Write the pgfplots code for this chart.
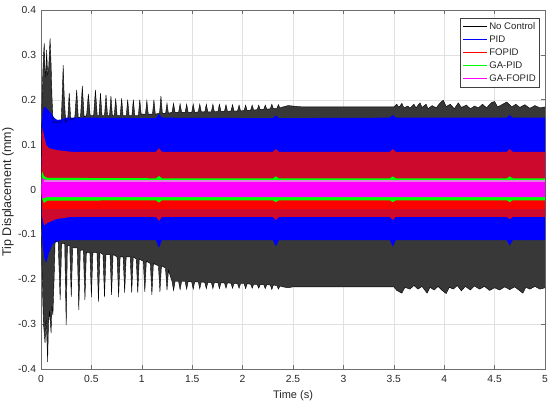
\documentclass[border=0pt]{standalone}
\usepackage{pgfplots}
\pgfplotsset{compat=1.18}
\usepgfplotslibrary{fillbetween}
\usepackage{fontspec}
\setmainfont{Liberation Sans}
\definecolor{bandk}{RGB}{56,56,56}
\definecolor{crim}{RGB}{205,10,45}
\definecolor{mlight}{RGB}{228,120,228}
\definecolor{axcol}{RGB}{110,110,110}
\definecolor{txtcol}{RGB}{38,38,38}
\definecolor{cblue}{RGB}{0,0,255}
\definecolor{cred}{RGB}{255,0,0}
\definecolor{cgreen}{RGB}{0,255,0}
\definecolor{cmag}{RGB}{255,0,255}
\begin{document}
\begin{tikzpicture}
\begin{axis}[
  scale only axis, width=504bp, height=359bp,
  xmin=0, xmax=5, ymin=-0.4, ymax=0.4,
  xtick={0,0.5,1,1.5,2,2.5,3,3.5,4,4.5,5},
  xticklabels={0,0.5,1,1.5,2,2.5,3,3.5,4,4.5,5},
  ytick={-0.4,-0.3,-0.2,-0.1,0,0.1,0.2,0.3,0.4},
  yticklabels={-0.4,-0.3,-0.2,-0.1,0,0.1,0.2,0.3,0.4},
  tick align=inside, major tick length=4bp,
  axis line style={axcol, line width=0.6bp},
  every tick/.style={axcol, line width=0.6bp},
  grid=major, major grid style={black!12, line width=0.5bp},
  ticklabel style={font=\fontsize{10.3bp}{12bp}\selectfont, text=txtcol},
  xticklabel style={yshift=-2.5bp},
  yticklabel style={xshift=-1.5bp},
  /pgf/number format/assume math mode=true,
  xlabel={Time (s)}, ylabel={Tip Displacement (mm)},
  xlabel style={font=\fontsize{11bp}{13bp}\selectfont, text=txtcol, at={(axis description cs:0.5,-0.0738)}, anchor=center},
  ylabel style={font=\fontsize{12.5bp}{14bp}\selectfont, text=txtcol, at={(axis description cs:-0.0655,0.493)}, anchor=center, rotate=0},
  legend style={at={(0.990,0.978)}, anchor=north east, draw=black!75, line width=0.5bp,
    font=\fontsize{9.6bp}{11bp}\selectfont, text=txtcol, inner xsep=2.5bp, inner ysep=2.5bp,
    row sep=1bp, nodes={inner sep=1.5bp, text height=7bp, text depth=2bp}},
  legend cell align=left,
  legend image code/.code={\draw[line width=0.8bp] (0bp,0bp) -- (24bp,0bp);},
]
% ---------------- No Control (black) ----------------
\addplot[name path=ku, black, line width=0.4bp, forget plot] coordinates {
(0,0) (0.004,0.1) (0.01,0.2) (0.018,0.26) (0.025,0.30) (0.032,0.326) (0.04,0.27)
(0.048,0.25) (0.056,0.311) (0.066,0.255) (0.076,0.27) (0.09,0.337) (0.1,0.28)
(0.11,0.2) (0.12,0.15) (0.2,0.15) (0.212,0.22) (0.22,0.277) (0.23,0.21) (0.245,0.15)
(0.265,0.155) (0.28,0.215) (0.295,0.155) (0.335,0.16) (0.354,0.222) (0.37,0.16)
(0.392,0.162) (0.41,0.231) (0.428,0.162) (0.452,0.165) (0.47,0.213) (0.488,0.165)
(0.522,0.165) (0.54,0.222) (0.558,0.165) (0.575,0.165) (0.59,0.215) (0.605,0.165)
(0.63,0.165) (0.645,0.211) (0.66,0.165) (0.68,0.165) (0.694,0.208) (0.708,0.165)
(0.727,0.165) (0.741,0.203) (0.755,0.165) (0.786,0.165) (0.80,0.203) (0.814,0.165)
(0.846,0.165) (0.86,0.2) (0.874,0.165) (0.902,0.165) (0.916,0.2) (0.93,0.165)
(0.966,0.165) (0.98,0.2) (0.994,0.168) (1.036,0.168) (1.05,0.198) (1.064,0.168)
(1.106,0.168) (1.12,0.2) (1.134,0.168) (1.176,0.17) (1.19,0.208) (1.204,0.17)
(1.236,0.17) (1.25,0.192) (1.264,0.17) (1.30,0.172) (1.315,0.192) (1.33,0.172)
(1.365,0.172) (1.38,0.191) (1.395,0.172) (1.43,0.172) (1.445,0.19) (1.46,0.172)
(1.495,0.172) (1.51,0.19) (1.525,0.172) (1.56,0.173) (1.575,0.19) (1.59,0.173)
(1.625,0.173) (1.64,0.19) (1.655,0.173) (1.69,0.173) (1.705,0.19) (1.72,0.173)
(1.755,0.174) (1.77,0.19) (1.785,0.174) (1.82,0.174) (1.835,0.189) (1.85,0.174)
(1.885,0.175) (1.90,0.189) (1.915,0.175) (1.95,0.175) (1.965,0.188) (1.98,0.175)
(2.015,0.176) (2.03,0.188) (2.045,0.176) (2.08,0.177) (2.095,0.188) (2.11,0.177)
(2.145,0.178) (2.16,0.188) (2.175,0.178) (2.21,0.179) (2.225,0.188) (2.24,0.179)
(2.275,0.18) (2.29,0.19) (2.305,0.18) (2.34,0.181) (2.355,0.189) (2.37,0.182)
(2.40,0.184) (2.45,0.187) (2.5,0.186) (2.6,0.184) (3.0,0.184) (3.5,0.184)
(3.53,0.19) (3.55,0.183) (3.58,0.192) (3.6,0.182) (3.64,0.186) (3.66,0.181)
(3.7,0.19) (3.72,0.182) (3.76,0.193) (3.78,0.183) (3.82,0.19) (3.84,0.18)
(3.88,0.187) (3.92,0.182) (3.96,0.193) (3.99,0.199) (4.02,0.185) (4.06,0.19)
(4.1,0.18) (4.14,0.193) (4.17,0.183) (4.22,0.188) (4.26,0.18) (4.3,0.186)
(4.34,0.182) (4.38,0.19) (4.42,0.182) (4.47,0.194) (4.5,0.196) (4.53,0.184)
(4.58,0.19) (4.62,0.195) (4.67,0.184) (4.71,0.19) (4.75,0.183) (4.8,0.189)
(4.85,0.181) (4.9,0.187) (4.95,0.182) (5,0.184)};
\addplot[name path=kl, black, line width=0.4bp, forget plot] coordinates {
(0,0) (0.004,-0.08) (0.01,-0.18) (0.018,-0.25) (0.025,-0.30) (0.04,-0.342) (0.05,-0.29)
(0.058,-0.33) (0.066,-0.384) (0.074,-0.3) (0.085,-0.27) (0.1,-0.32) (0.108,-0.26)
(0.118,-0.28) (0.13,-0.2) (0.14,-0.115) (0.17,-0.115) (0.19,-0.246) (0.205,-0.12)
(0.235,-0.12) (0.25,-0.302) (0.262,-0.125) (0.285,-0.125) (0.30,-0.239) (0.315,-0.13)
(0.36,-0.13) (0.375,-0.268) (0.39,-0.135) (0.42,-0.135) (0.436,-0.246) (0.45,-0.14)
(0.485,-0.14) (0.50,-0.24) (0.515,-0.14) (0.555,-0.14) (0.57,-0.25) (0.585,-0.14)
(0.615,-0.145) (0.63,-0.24) (0.645,-0.145) (0.685,-0.145) (0.70,-0.235) (0.715,-0.145)
(0.755,-0.15) (0.77,-0.24) (0.785,-0.15) (0.815,-0.15) (0.83,-0.23) (0.845,-0.15)
(0.885,-0.15) (0.90,-0.23) (0.915,-0.15) (0.945,-0.155) (0.96,-0.23) (0.975,-0.155)
(1.015,-0.16) (1.03,-0.228) (1.045,-0.16) (1.085,-0.165) (1.10,-0.235) (1.115,-0.165)
(1.165,-0.17) (1.18,-0.228) (1.195,-0.17) (1.235,-0.175) (1.25,-0.224) (1.265,-0.18)
(1.30,-0.205) (1.315,-0.225) (1.33,-0.205) (1.365,-0.205) (1.38,-0.223) (1.395,-0.205)
(1.43,-0.205) (1.445,-0.222) (1.46,-0.205) (1.495,-0.206) (1.51,-0.222) (1.525,-0.206)
(1.56,-0.206) (1.575,-0.221) (1.59,-0.206) (1.625,-0.207) (1.64,-0.221) (1.655,-0.207)
(1.69,-0.207) (1.705,-0.221) (1.72,-0.207) (1.755,-0.208) (1.77,-0.221) (1.785,-0.208)
(1.82,-0.208) (1.835,-0.22) (1.85,-0.208) (1.885,-0.209) (1.90,-0.22) (1.915,-0.209)
(1.95,-0.21) (1.965,-0.22) (1.98,-0.21) (2.015,-0.21) (2.03,-0.221) (2.045,-0.21)
(2.08,-0.211) (2.095,-0.22) (2.11,-0.211) (2.145,-0.212) (2.16,-0.22) (2.175,-0.212)
(2.21,-0.212) (2.225,-0.221) (2.24,-0.212) (2.275,-0.213) (2.29,-0.223) (2.305,-0.213)
(2.34,-0.214) (2.355,-0.222) (2.37,-0.215) (2.4,-0.217) (2.45,-0.219) (2.5,-0.217)
(3.0,-0.217) (3.5,-0.217) (3.53,-0.225) (3.58,-0.231) (3.61,-0.218) (3.66,-0.222)
(3.7,-0.214) (3.74,-0.222) (3.78,-0.216) (3.83,-0.231) (3.86,-0.218) (3.9,-0.224)
(3.94,-0.216) (3.98,-0.225) (4.02,-0.232) (4.05,-0.218) (4.09,-0.222) (4.13,-0.214)
(4.17,-0.226) (4.21,-0.216) (4.26,-0.224) (4.3,-0.215) (4.35,-0.222) (4.4,-0.216)
(4.45,-0.225) (4.5,-0.219) (4.55,-0.224) (4.6,-0.217) (4.65,-0.223) (4.7,-0.217)
(4.74,-0.224) (4.78,-0.231) (4.81,-0.218) (4.85,-0.222) (4.9,-0.216) (4.95,-0.222)
(5,-0.219)};
\addplot[bandk, forget plot] fill between[of=ku and kl];
% ---------------- PID (blue) ----------------
\addplot[name path=bu, draw=none, forget plot] coordinates {
(0,0) (0.005,0.12) (0.015,0.17) (0.03,0.185) (0.06,0.18) (0.1,0.17) (0.13,0.16)
(0.16,0.155) (0.2,0.156) (0.25,0.16) (0.5,0.16) (1.14,0.159) (1.17,0.168) (1.2,0.16)
(2.3,0.159) (2.33,0.165) (2.36,0.159) (3.46,0.16) (3.49,0.166) (3.52,0.16)
(4.62,0.16) (4.65,0.166) (4.68,0.16) (5,0.16)};
\addplot[name path=bl, draw=none, forget plot] coordinates {
(0,0) (0.005,-0.06) (0.015,-0.12) (0.03,-0.15) (0.05,-0.164) (0.08,-0.14) (0.12,-0.12)
(0.2,-0.113) (1.14,-0.113) (1.17,-0.13) (1.2,-0.113) (2.3,-0.113) (2.33,-0.127)
(2.36,-0.113) (3.46,-0.113) (3.49,-0.127) (3.52,-0.113) (4.62,-0.113) (4.65,-0.125)
(4.68,-0.113) (5,-0.113)};
\addplot[cblue, forget plot] fill between[of=bu and bl];
% ---------------- FOPID (red) ----------------
\addplot[name path=ru, draw=none, forget plot] coordinates {
(0,0) (0.005,0.11) (0.015,0.137) (0.03,0.12) (0.05,0.1) (0.08,0.092) (0.15,0.088)
(0.3,0.084) (1.14,0.084) (1.17,0.092) (1.2,0.084) (2.3,0.084) (2.33,0.09) (2.36,0.084)
(3.46,0.084) (3.49,0.09) (3.52,0.084) (4.62,0.084) (4.65,0.09) (4.68,0.084) (5,0.084)};
\addplot[name path=rl, draw=none, forget plot] coordinates {
(0,0) (0.01,-0.06) (0.03,-0.08) (0.06,-0.075) (0.15,-0.066) (0.3,-0.061) (1.14,-0.061)
(1.17,-0.07) (1.2,-0.061) (2.3,-0.061) (2.33,-0.068) (2.36,-0.061) (3.46,-0.061)
(3.49,-0.068) (3.52,-0.061) (4.62,-0.061) (4.65,-0.066) (4.68,-0.061) (5,-0.061)};
\addplot[crim, forget plot] fill between[of=ru and rl];
\addplot[name path=rsu, draw=none, forget plot] coordinates {(0.02,-0.022) (5,-0.022)};
\addplot[name path=rsl, draw=none, forget plot] coordinates {(0.02,-0.043) (5,-0.043)};
\addplot[cred, forget plot] fill between[of=rsu and rsl];
% ---------------- GA-PID (green) ----------------
\addplot[name path=gu, draw=none, forget plot] coordinates {
(0,0) (0.005,0.035) (0.012,0.04) (0.03,0.03) (0.06,0.026) (1.14,0.025) (1.17,0.03)
(1.2,0.025) (2.3,0.025) (2.33,0.029) (2.36,0.025) (3.46,0.025) (3.49,0.029)
(3.52,0.025) (4.62,0.025) (4.65,0.029) (4.68,0.025) (5,0.025)};
\addplot[name path=gl, draw=none, forget plot] coordinates {
(0,0) (0.01,-0.02) (0.03,-0.03) (0.06,-0.025) (1.14,-0.024) (1.17,-0.029) (1.2,-0.024)
(2.3,-0.024) (2.33,-0.028) (2.36,-0.024) (3.46,-0.024) (3.49,-0.028) (3.52,-0.024)
(4.62,-0.024) (4.65,-0.028) (4.68,-0.024) (5,-0.024)};
\addplot[cgreen, forget plot] fill between[of=gu and gl];
% ---------------- GA-FOPID (magenta) ----------------
\addplot[name path=mu, draw=none, forget plot] coordinates {
(0,0) (0.008,0.026) (0.03,0.023) (0.06,0.021) (5,0.021)};
\addplot[name path=ml, draw=none, forget plot] coordinates {
(0,0) (0.008,-0.02) (0.03,-0.019) (0.06,-0.017) (5,-0.017)};
\addplot[cmag, forget plot] fill between[of=mu and ml];
\addplot[name path=msu, draw=none, forget plot] coordinates {(0.03,0.021) (5,0.021)};
\addplot[name path=msl, draw=none, forget plot] coordinates {(0.03,0.016) (5,0.016)};
\addplot[mlight, forget plot] fill between[of=msu and msl];
% ---------------- legend ----------------
\addlegendimage{black}\addlegendentry{No Control}
\addlegendimage{cblue}\addlegendentry{PID}
\addlegendimage{cred}\addlegendentry{FOPID}
\addlegendimage{cgreen}\addlegendentry{GA-PID}
\addlegendimage{cmag}\addlegendentry{GA-FOPID}
\end{axis}
\pgfresetboundingbox
\path (current axis.south west) ++(-41bp,-38bp) rectangle ++(550bp,407bp);
\end{tikzpicture}
\end{document}
